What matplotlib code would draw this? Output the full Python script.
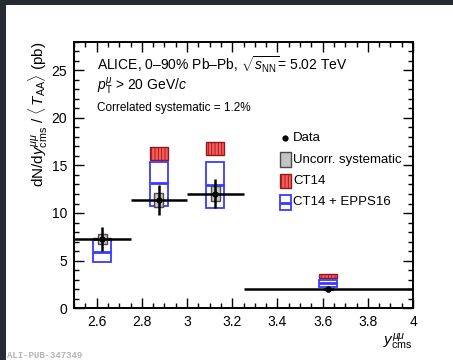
import matplotlib
matplotlib.use("Agg")
import matplotlib.pyplot as plt
from matplotlib.patches import Rectangle
from matplotlib.ticker import MultipleLocator

plt.rcParams['font.family'] = ['Liberation Sans', 'DejaVu Sans']
plt.rcParams['mathtext.fontset'] = 'custom'
plt.rcParams['mathtext.rm'] = 'Liberation Sans'
plt.rcParams['mathtext.it'] = 'Liberation Sans:italic'
plt.rcParams['mathtext.bf'] = 'Liberation Sans:bold'
plt.rcParams['hatch.linewidth'] = 0.6

# Rapidity bins (edges) and measured yields
bin_lo = [2.5, 2.75, 3.0, 3.25]
bin_hi = [2.75, 3.0, 3.25, 4.0]
data_y = [7.25, 11.37, 12.05, 1.97]
stat_err = [1.3, 1.55, 1.55, 0.3]
syst_err = [0.55, 0.7, 0.75, 0.1]

# Model predictions: CT14 band and CT14 + EPPS16 band (low, central, high)
ct14_lo = [7.05, 15.6, 16.1, 3.19]
ct14_hi = [7.35, 16.9, 17.5, 3.54]
epps_lo = [4.87, 10.74, 10.5, 2.25]
epps_c = [5.93, 13.12, 12.95, 2.6]
epps_hi = [7.16, 15.4, 15.4, 2.95]

xticks = [2.6, 2.8, 3.0, 3.2, 3.4, 3.6, 3.8, 4.0]
xtick_labels = ["2.6", "2.8", "3", "3.2", "3.4", "3.6", "3.8", "4"]
yticks = [0, 5, 10, 15, 20, 25]

W, H = 453, 360
fig = plt.figure(figsize=(W / 100, H / 100), dpi=100)
fig.patch.set_facecolor('white')
# dark frame strips along the top and left edges
fig.patches.append(Rectangle((0, 1 - 5 / H), 1, 5 / H, transform=fig.transFigure,
                             facecolor='#262a31', edgecolor='none', zorder=0))
fig.patches.append(Rectangle((0, 0), 6 / W, 1, transform=fig.transFigure,
                             facecolor='#262a31', edgecolor='none', zorder=0))

ax = fig.add_axes([74 / W, 1 - 308 / H, 339 / W, 266 / H])
ax.set_xlim(2.5, 4.0)
ax.set_ylim(0, 28)

red_face = '#ff5a5a'
red_edge = '#8a1c1c'
blue = '#3a3aff'
box_w = 0.08
syst_w = 0.04

for i in range(len(data_y)):
    xc = 0.5 * (bin_lo[i] + bin_hi[i])
    # CT14 band
    ax.add_patch(Rectangle((xc - box_w / 2, ct14_lo[i]), box_w, ct14_hi[i] - ct14_lo[i],
                           facecolor=red_face, edgecolor=red_edge, hatch='|||||',
                           linewidth=1.0, zorder=2))
    # CT14 + EPPS16 band
    ax.add_patch(Rectangle((xc - box_w / 2, epps_lo[i]), box_w, epps_hi[i] - epps_lo[i],
                           facecolor='white', edgecolor=blue, linewidth=1.3, zorder=3))
    ax.plot([xc - box_w / 2, xc + box_w / 2], [epps_c[i], epps_c[i]],
            color=blue, linewidth=2.0, zorder=3, solid_capstyle='butt')
    # uncorrelated systematic box
    ax.add_patch(Rectangle((xc - syst_w / 2, data_y[i] - syst_err[i]), syst_w, 2 * syst_err[i],
                           facecolor='#c4c4c4', edgecolor='#4a4a4a', linewidth=1.0, zorder=4))
    # statistical error and bin width
    ax.plot([bin_lo[i], bin_hi[i]], [data_y[i], data_y[i]], color='black',
            linewidth=1.8, zorder=5, solid_capstyle='butt')
    ax.plot([xc, xc], [data_y[i] - stat_err[i], data_y[i] + stat_err[i]], color='black',
            linewidth=1.8, zorder=5, solid_capstyle='butt')
    ax.plot([xc], [data_y[i]], marker='o', markersize=3.5, color='black', zorder=6)

# axes styling
ax.set_xticks(xticks)
ax.set_xticklabels(xtick_labels)
ax.set_yticks(yticks)
ax.xaxis.set_minor_locator(MultipleLocator(0.05))
ax.yaxis.set_minor_locator(MultipleLocator(1))
ax.tick_params(which='both', direction='in', top=True, right=True, labelsize=10,
               width=1.0, color='black')
ax.tick_params(which='major', length=7, pad=5)
ax.tick_params(which='minor', length=3.5)
for s in ax.spines.values():
    s.set_linewidth(1.4)

ax.set_xlabel(r'$y^{\mu\mu}_{\mathrm{cms}}$', fontsize=11, loc='right', labelpad=2)
ax.set_ylabel(r'dN/d$y^{\mu\mu}_{\mathrm{cms}}$ / $\langle\, T_{\mathrm{AA}} \rangle$ (pb)',
              fontsize=11, loc='top', labelpad=1)

# header text
ax.text(0.068, 0.914, r'ALICE, 0–90% Pb–Pb, $\sqrt{s_{\mathrm{NN}}}$= 5.02 TeV',
        transform=ax.transAxes, fontsize=10, va='center', ha='left')
ax.text(0.068, 0.835, r'$p_{\mathrm{T}}^{\mu}$ > 20 GeV/$c$',
        transform=ax.transAxes, fontsize=10, va='center', ha='left')
ax.text(0.068, 0.752, 'Correlated systematic = 1.2%',
        transform=ax.transAxes, fontsize=8.5, va='center', ha='left')

# legend
tr = ax.transAxes
lx0, lx1 = 0.608, 0.640
ax.plot([0.622], [0.639], marker='o', markersize=3.5, color='black', transform=tr, clip_on=False)
ax.add_patch(Rectangle((lx0, 0.530), lx1 - lx0, 0.056, transform=tr, facecolor='#c4c4c4',
                       edgecolor='#4a4a4a', linewidth=1.0))
ax.add_patch(Rectangle((lx0, 0.451), lx1 - lx0, 0.053, transform=tr, facecolor=red_face,
                       edgecolor=red_edge, hatch='|||||', linewidth=1.0))
ax.add_patch(Rectangle((lx0, 0.368), lx1 - lx0, 0.057, transform=tr, facecolor='white',
                       edgecolor=blue, linewidth=1.3))
ax.plot([lx0, lx1], [0.3965, 0.3965], color=blue, linewidth=2.0, transform=tr,
        solid_capstyle='butt')
leg_labels = ['Data', 'Uncorr. systematic', 'CT14', 'CT14 + EPPS16']
leg_y = [0.639, 0.556, 0.477, 0.398]
for lab, yy in zip(leg_labels, leg_y):
    ax.text(0.646, yy, lab, transform=tr, fontsize=9.5, va='center', ha='left')

fig.text(7 / W, 1 - 356 / H, 'ALI-PUB-347349', family=['Liberation Mono', 'DejaVu Sans Mono'],
         fontsize=6.5, color='#b4b4b4', va='center', ha='left', fontweight='bold')

fig.savefig('out.png', dpi=100)
